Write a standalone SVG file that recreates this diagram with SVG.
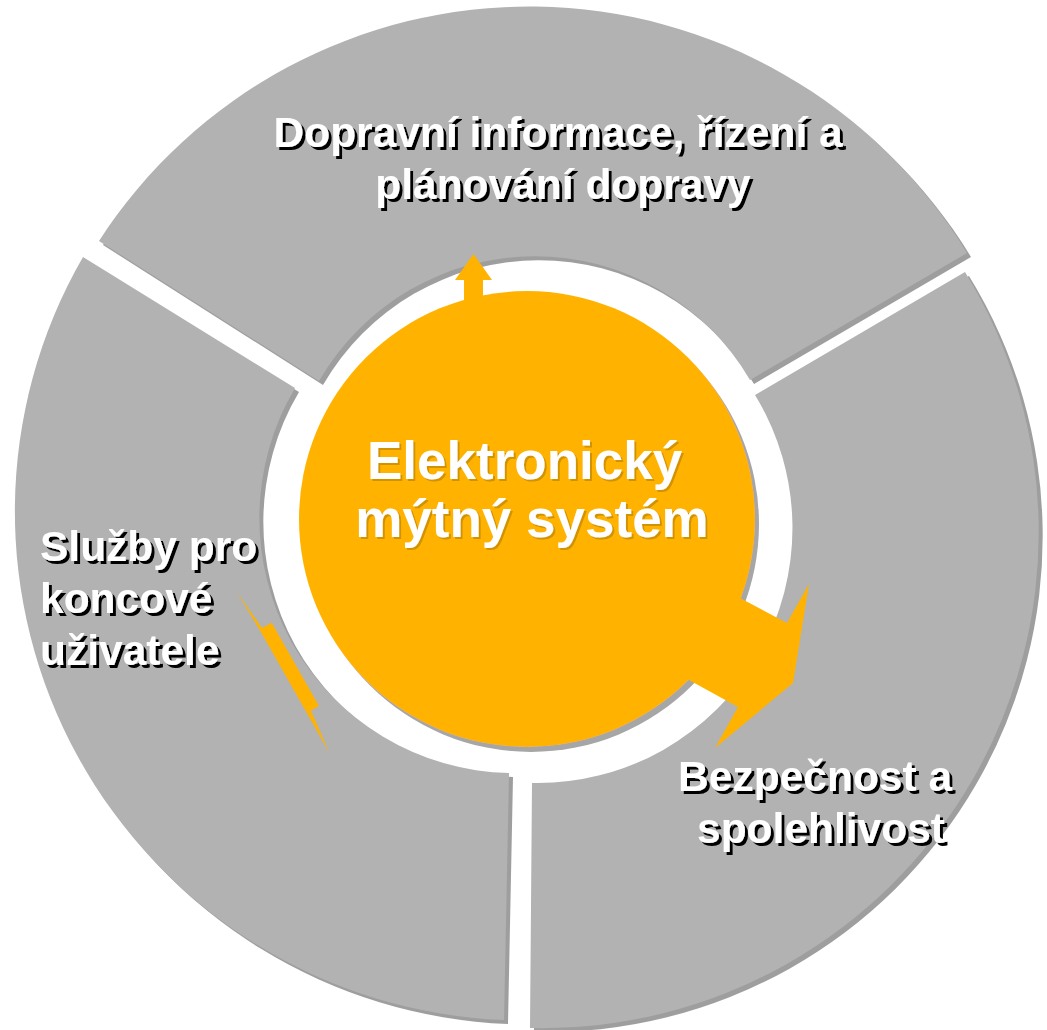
<svg xmlns="http://www.w3.org/2000/svg" xmlns:xlink="http://www.w3.org/1999/xlink" width="1047" height="1030" viewBox="0 0 1047 1030">
  <defs>
    <style>
      .seg { fill: #B2B2B2; filter: url(#segShadow); }
      .hub { fill: #FFB300; filter: url(#hubShadow); }
      .arrow { fill: #FFB300; }
      .lbl { font-family: "Liberation Sans", Arial, sans-serif; font-weight: bold; font-size: 42.5px; fill: #FFFFFF; filter: url(#txtShadow); }
      .hubtxt { font-family: "Liberation Sans", Arial, sans-serif; font-weight: bold; font-size: 53px; fill: #FFFFFF; filter: url(#hubTxtShadow); }
    </style>
    <filter id="segShadow" x="-5%" y="-5%" width="112%" height="112%">
      <feOffset in="SourceAlpha" dx="4" dy="4" result="off"/>
      <feFlood flood-color="#9E9E9E"/>
      <feComposite in2="off" operator="in" result="sh"/>
      <feMerge><feMergeNode in="sh"/><feMergeNode in="SourceGraphic"/></feMerge>
    </filter>
    <filter id="hubShadow" x="-5%" y="-5%" width="112%" height="112%">
      <feOffset in="SourceAlpha" dx="4" dy="5" result="off"/>
      <feFlood flood-color="#A6A6A6"/>
      <feComposite in2="off" operator="in" result="sh"/>
      <feMerge><feMergeNode in="sh"/><feMergeNode in="SourceGraphic"/></feMerge>
    </filter>
    <filter id="txtShadow" x="-5%" y="-30%" width="115%" height="170%">
      <feOffset in="SourceAlpha" dx="3" dy="3" result="off"/>
      <feFlood flood-color="#000000"/>
      <feComposite in2="off" operator="in" result="sh"/>
      <feMerge><feMergeNode in="sh"/><feMergeNode in="SourceGraphic"/></feMerge>
    </filter>
    <filter id="hubTxtShadow" x="-5%" y="-30%" width="115%" height="170%">
      <feOffset in="SourceAlpha" dx="2" dy="2" result="off"/>
      <feFlood flood-color="#9A6A00" flood-opacity="0.45"/>
      <feComposite in2="off" operator="in" result="sh"/>
      <feMerge><feMergeNode in="sh"/><feMergeNode in="SourceGraphic"/></feMerge>
    </filter>
  </defs>

  <rect width="1047" height="1030" fill="#FFFFFF"/>

  <g id="node-top">
    <path class="seg" d="M 99 241 A 512 512 0 0 1 967 253 L 750 380 A 249 249 0 0 0 319 381 Z"/>
    <text class="lbl" text-anchor="middle">
      <tspan x="564" y="147">Dopravní informace, řízení a</tspan>
      <tspan x="563" y="199">plánování dopravy</tspan>
    </text>
  </g>

  <g id="node-left">
    <path class="seg" d="M 83 257 L 295 388 A 255 255 0 0 0 509 773 L 504 1020 A 509 509 0 0 1 83 257 Z"/>
    <text class="lbl">
      <tspan x="40" y="561">Služby pro</tspan>
      <tspan x="40" y="613">koncové</tspan>
      <tspan x="40" y="665">uživatele</tspan>
    </text>
  </g>

  <g id="node-right">
    <path class="seg" d="M 965 272 A 496 496 0 0 1 530 1028 L 532 783 A 255 255 0 0 0 755 395 Z"/>
    <text class="lbl" text-anchor="middle">
      <tspan x="821" y="791">Bezpečnost a</tspan>
      <tspan x="821" y="843">spolehlivost</tspan>
    </text>
  </g>

  <g id="node-center">
    <circle class="hub" cx="527" cy="519" r="228"/>
  </g>

  <g id="connectors">
    <polygon class="arrow" points="464,310 464,280 455,280 473.5,254 492,280 483,280 483,310"/>
    <polygon class="arrow" points="693,573 787,623 809,584 793,683 715,748 738,707 640,653"/>
    <polygon class="arrow" points="236.7,591.7 262,628 271.7,622.7 319,706 311,710.5 329.3,752.7 306.7,712.7 259.3,629.3"/>
  </g>

  <g id="node-center-label">
    <text class="hubtxt" text-anchor="middle">
      <tspan x="532" y="479">Elektronický</tspan>
      <tspan x="532" y="537">mýtný systém</tspan>
    </text>
  </g>
</svg>
